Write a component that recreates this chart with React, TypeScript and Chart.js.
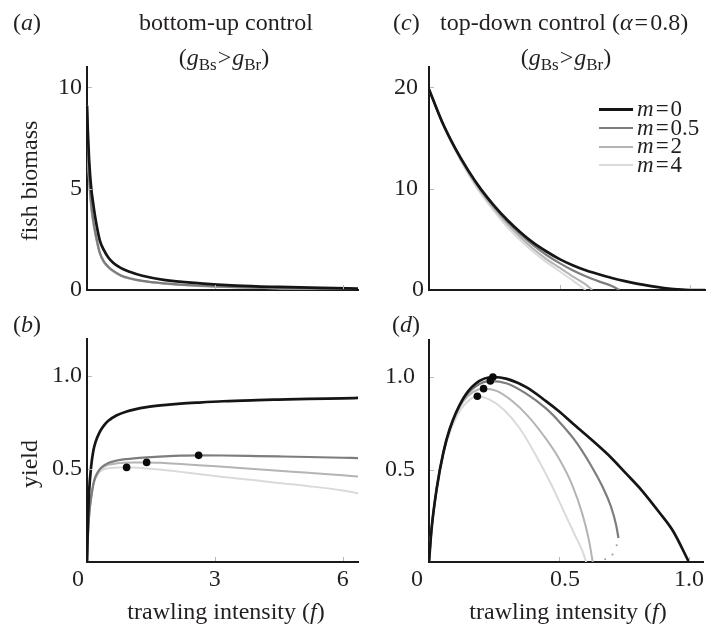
import React, { useEffect, useRef } from "react";
import { Chart, registerables } from "chart.js";

Chart.register(...registerables);

const W = 707;
const H = 626;
const FONT = '"Liberation Serif", "Times New Roman", Times, serif';
const TEXT = "#231f20";
const AXIS = "#1a1a1a";
const C_M0 = "#151515";
const C_M05 = "#7d7d7d";
const C_M2 = "#b4b4b4";
const C_M4 = "#dadada";
const DOT = "#0a0a0a";

// ---------- Panel (a): fish biomass, bottom-up control ----------
const fA = [0, 0.02, 0.05, 0.1, 0.15, 0.2, 0.3, 0.4, 0.5, 0.62, 0.8, 1.0, 1.3, 1.8, 2.65, 3.5, 4.5, 5.5, 6.4];
const bioA_m0 = [9.1, 7.8, 6.4, 5.0, 4.2, 3.5, 2.45, 1.95, 1.6, 1.33, 1.08, 0.9, 0.7, 0.5, 0.33, 0.22, 0.15, 0.1, 0.07];
const bioA_m05 = [9.1, 7.2, 5.6, 4.2, 3.4, 2.8, 1.85, 1.4, 1.15, 0.94, 0.72, 0.58, 0.45, 0.33, 0.21, 0.14, 0.09, 0.06, 0.04];
const bioA_m2 = [9.1, 7.0, 5.4, 4.05, 3.3, 2.7, 1.8, 1.36, 1.12, 0.92, 0.7, 0.57, 0.44, 0.32, 0.2, 0.13, 0.085, 0.055, 0.035];
const bioA_m4 = [9.1, 6.9, 5.3, 3.95, 3.2, 2.65, 1.76, 1.33, 1.1, 0.9, 0.69, 0.56, 0.43, 0.31, 0.19, 0.125, 0.08, 0.05, 0.03];

// ---------- Panel (b): yield, bottom-up control ----------
const fB = [0, 0.02, 0.05, 0.1, 0.15, 0.2, 0.3, 0.4, 0.5, 0.7, 0.93, 1.1, 1.4, 1.8, 2.2, 2.62, 3.2, 4.0, 4.5, 5.2, 6.0, 6.4];
const yldB_m0 = [0, 0.2, 0.38, 0.52, 0.6, 0.645, 0.7, 0.735, 0.76, 0.79, 0.81, 0.82, 0.833, 0.844, 0.852, 0.858, 0.865, 0.871, 0.874, 0.878, 0.881, 0.883];
const yldB_m05 = [0, 0.13, 0.25, 0.35, 0.42, 0.46, 0.5, 0.52, 0.533, 0.546, 0.554, 0.558, 0.563, 0.568, 0.572, 0.574, 0.573, 0.57, 0.568, 0.565, 0.561, 0.559];
const yldB_m2 = [0, 0.13, 0.25, 0.35, 0.42, 0.455, 0.495, 0.513, 0.523, 0.531, 0.534, 0.535, 0.536, 0.533, 0.528, 0.521, 0.512, 0.499, 0.491, 0.48, 0.467, 0.459];
const yldB_m4 = [0, 0.13, 0.25, 0.35, 0.415, 0.45, 0.485, 0.499, 0.505, 0.508, 0.509, 0.508, 0.503, 0.495, 0.485, 0.473, 0.458, 0.438, 0.425, 0.408, 0.385, 0.369];
const fB_max = [2.62, 1.4, 0.93];
const yldB_max = [0.574, 0.536, 0.509];

// ---------- Panel (c): fish biomass, top-down control ----------
const fC_m0 = [0, 0.05, 0.1, 0.15, 0.2, 0.25, 0.3, 0.35, 0.4, 0.45, 0.5, 0.55, 0.6, 0.65, 0.7, 0.75, 0.8, 0.85, 0.9, 0.95, 1.0, 1.057];
const bioC_m0 = [19.8, 16.6, 14.0, 11.8, 9.9, 8.3, 6.9, 5.7, 4.65, 3.8, 3.05, 2.45, 1.95, 1.55, 1.18, 0.87, 0.6, 0.38, 0.2, 0.07, 0, 0];
const fC_m05 = [0, 0.05, 0.1, 0.15, 0.2, 0.25, 0.3, 0.35, 0.4, 0.45, 0.5, 0.55, 0.6, 0.65, 0.7, 0.73];
const bioC_m05 = [19.8, 16.6, 14.0, 11.8, 9.85, 8.2, 6.75, 5.5, 4.4, 3.45, 2.65, 1.95, 1.35, 0.85, 0.4, 0];
const fC_m2 = [0, 0.05, 0.1, 0.15, 0.2, 0.25, 0.3, 0.35, 0.4, 0.45, 0.5, 0.55, 0.6, 0.625];
const bioC_m2 = [19.8, 16.6, 13.9, 11.6, 9.65, 8.0, 6.5, 5.2, 4.05, 3.05, 2.2, 1.35, 0.55, 0];
const fC_m4 = [0, 0.05, 0.1, 0.15, 0.2, 0.25, 0.3, 0.35, 0.4, 0.45, 0.5, 0.55, 0.6];
const bioC_m4 = [19.8, 16.5, 13.8, 11.45, 9.45, 7.75, 6.2, 4.9, 3.75, 2.75, 1.85, 0.95, 0];

// ---------- Panel (d): yield, top-down control ----------
const fD_m0 = [0, 0.01, 0.03, 0.055, 0.08, 0.13, 0.18, 0.246, 0.3, 0.374, 0.45, 0.5, 0.56, 0.63, 0.7, 0.757, 0.82, 0.885, 0.94, 1.0];
const yldD_m0 = [0, 0.18, 0.4, 0.59, 0.72, 0.88, 0.965, 1.0, 0.99, 0.945, 0.87, 0.815, 0.74, 0.655, 0.565, 0.48, 0.385, 0.27, 0.165, 0];
const fD_m05 = [0, 0.01, 0.03, 0.055, 0.08, 0.13, 0.18, 0.236, 0.3, 0.374, 0.45, 0.5, 0.56, 0.62, 0.67, 0.7, 0.72, 0.729];
const yldD_m05 = [0, 0.18, 0.4, 0.59, 0.72, 0.875, 0.95, 0.978, 0.965, 0.91, 0.83, 0.76, 0.66, 0.53, 0.4, 0.3, 0.2, 0.13];
const fD_m05u = [0.722, 0.706, 0.678];
const yldD_m05u = [0.09, 0.04, 0.015];
const fD_m2 = [0, 0.01, 0.03, 0.055, 0.08, 0.13, 0.17, 0.21, 0.26, 0.32, 0.38, 0.44, 0.5, 0.55, 0.59, 0.615, 0.63];
const yldD_m2 = [0, 0.18, 0.4, 0.59, 0.715, 0.865, 0.92, 0.937, 0.925, 0.87, 0.79, 0.685, 0.56, 0.42, 0.26, 0.12, 0];
const fD_m4 = [0, 0.01, 0.03, 0.055, 0.08, 0.12, 0.155, 0.186, 0.23, 0.29, 0.35, 0.41, 0.47, 0.52, 0.56, 0.59, 0.605];
const yldD_m4 = [0, 0.18, 0.4, 0.585, 0.7, 0.82, 0.875, 0.896, 0.88, 0.82, 0.72, 0.58, 0.42, 0.27, 0.15, 0.06, 0];
const fD_max = [0.246, 0.236, 0.21, 0.186];
const yldD_max = [1.0, 0.978, 0.937, 0.896];

// ---------- ticks ----------
const xTicksBottomUp = [0, 3, 6];
const xLabelsBottomUp = ["0\u00a0\u00a0\u00a0", "3", "6"];
const xTicksTopDown = [0, 0.5, 1.0];
const xLabelsTopDown = ["0\u00a0\u00a0\u00a0\u00a0", "\u00a0\u00a00.5", "1.0"];
const yTicksA = [0, 5, 10];
const yLabelsA = ["0", "5", "10"];
const yTicksC = [0, 10, 20];
const yLabelsC = ["0", "10\u00a0", "20\u00a0"];
const yTicksYield = [0.5, 1.0];
const yLabelsYield = ["0.5", "1.0"];

const legendLabels = ["0", "0.5", "2", "4"];
const legendColors = [C_M0, C_M05, C_M2, C_M4];

const pts = (xs: number[], ys: number[]) => xs.map((x, i) => ({ x, y: ys[i] }));

const line = (xs: number[], ys: number[], color: string, width: number) => ({
  data: pts(xs, ys),
  showLine: true,
  borderColor: color,
  backgroundColor: color,
  borderWidth: width,
  pointRadius: 0,
  cubicInterpolationMode: "monotone",
  fill: false,
});

const dots = (xs: number[], ys: number[], r: number, color: string) => ({
  data: pts(xs, ys),
  showLine: false,
  pointRadius: r,
  backgroundColor: color,
  borderColor: color,
  borderWidth: 0,
});

const innerTicks = {
  id: "innerTicks",
  afterDraw(chart: any, _args: any, opts: any) {
    const { ctx, chartArea, scales } = chart;
    ctx.save();
    ctx.strokeStyle = "#b8b8b8";
    ctx.lineWidth = 1;
    ctx.beginPath();
    for (const v of opts.x || []) {
      const px = Math.round(scales.x.getPixelForValue(v)) + 0.5;
      ctx.moveTo(px, chartArea.bottom - 1);
      ctx.lineTo(px, chartArea.bottom - 5);
    }
    for (const v of opts.y || []) {
      const py = Math.round(scales.y.getPixelForValue(v)) + 0.5;
      ctx.moveTo(chartArea.left + 1, py);
      ctx.lineTo(chartArea.left + 5, py);
    }
    ctx.stroke();
    ctx.restore();
  },
};

type PanelCfg = {
  area: { left: number; top: number; right: number; bottom: number };
  xMax: number;
  yMax: number;
  xTicks: number[];
  xLabels: string[] | null;
  yTicks: number[];
  yLabels: string[];
  yPad: number;
  innerX: number[];
  innerY: number[];
  datasets: any[];
};

const labelFor = (ticks: number[], labels: string[]) => (v: any) => {
  const i = ticks.findIndex((t) => Math.abs(t - Number(v)) < 1e-9);
  return i >= 0 ? labels[i] : "";
};

function buildConfig(p: PanelCfg): any {
  const tickFont = { family: FONT, size: 24 };
  return {
    type: "scatter",
    data: { datasets: p.datasets },
    options: {
      animation: false,
      responsive: false,
      events: [],
      layout: {
        autoPadding: false,
        padding: { left: 0, top: p.area.top, right: W - p.area.right, bottom: 0 },
      },
      plugins: {
        legend: { display: false },
        tooltip: { enabled: false },
        innerTicks: { x: p.innerX, y: p.innerY },
      },
      scales: {
        x: {
          type: "linear",
          position: "bottom",
          min: 0,
          max: p.xMax,
          afterFit: (s: any) => {
            s.height = H - p.area.bottom;
          },
          afterBuildTicks: (s: any) => {
            s.ticks = p.xTicks.map((v) => ({ value: v }));
          },
          grid: { display: false, drawTicks: false, tickLength: 0 },
          border: { display: true, color: AXIS, width: 2 },
          ticks: {
            display: !!p.xLabels,
            autoSkip: false,
            maxRotation: 0,
            minRotation: 0,
            padding: 3,
            font: tickFont,
            color: TEXT,
            callback: labelFor(p.xTicks, p.xLabels || []),
          },
        },
        y: {
          type: "linear",
          position: "left",
          min: 0,
          max: p.yMax,
          afterFit: (s: any) => {
            s.width = p.area.left;
          },
          afterBuildTicks: (s: any) => {
            s.ticks = p.yTicks.map((v) => ({ value: v }));
          },
          grid: { display: false, drawTicks: false, tickLength: 0 },
          border: { display: true, color: AXIS, width: 2 },
          ticks: {
            display: true,
            autoSkip: false,
            padding: p.yPad,
            font: tickFont,
            color: TEXT,
            callback: labelFor(p.yTicks, p.yLabels),
          },
        },
      },
    },
    plugins: [innerTicks],
  };
}

const panelA: PanelCfg = {
  area: { left: 87, top: 67, right: 358, bottom: 290 },
  xMax: 6.36,
  yMax: 11,
  xTicks: xTicksBottomUp,
  xLabels: null,
  yTicks: yTicksA,
  yLabels: yLabelsA,
  yPad: 5,
  innerX: [3, 6],
  innerY: [5, 10],
  datasets: [
    line(fA, bioA_m0, C_M0, 2.7),
    line(fA, bioA_m05, C_M05, 2.2),
    line(fA, bioA_m2, C_M2, 2),
    line(fA, bioA_m4, C_M4, 2),
  ],
};

const panelB: PanelCfg = {
  area: { left: 87, top: 339, right: 358, bottom: 562 },
  xMax: 6.36,
  yMax: 1.2,
  xTicks: xTicksBottomUp,
  xLabels: xLabelsBottomUp,
  yTicks: yTicksYield,
  yLabels: yLabelsYield,
  yPad: 5,
  innerX: [3, 6],
  innerY: [0.5, 1.0],
  datasets: [
    dots(fB_max, yldB_max, 3.8, DOT),
    line(fB, yldB_m0, C_M0, 2.7),
    line(fB, yldB_m05, C_M05, 2.2),
    line(fB, yldB_m2, C_M2, 2),
    line(fB, yldB_m4, C_M4, 2),
  ],
};

const panelC: PanelCfg = {
  area: { left: 429, top: 67, right: 705, bottom: 290 },
  xMax: 1.057,
  yMax: 22,
  xTicks: xTicksTopDown,
  xLabels: null,
  yTicks: yTicksC,
  yLabels: yLabelsC,
  yPad: 5,
  innerX: [0.5, 1.0],
  innerY: [10, 20],
  datasets: [
    line(fC_m0, bioC_m0, C_M0, 2.7),
    line(fC_m05, bioC_m05, C_M05, 2.2),
    line(fC_m2, bioC_m2, C_M2, 2),
    line(fC_m4, bioC_m4, C_M4, 2),
  ],
};

const panelD: PanelCfg = {
  area: { left: 429, top: 340, right: 705, bottom: 562 },
  xMax: 1.057,
  yMax: 1.2,
  xTicks: xTicksTopDown,
  xLabels: xLabelsTopDown,
  yTicks: yTicksYield,
  yLabels: yLabelsYield,
  yPad: 14,
  innerX: [0.5, 1.0],
  innerY: [0.5, 1.0],
  datasets: [
    dots(fD_max, yldD_max, 3.8, DOT),
    line(fD_m0, yldD_m0, C_M0, 2.7),
    line(fD_m05, yldD_m05, C_M05, 2.2),
    dots(fD_m05u, yldD_m05u, 1, "#9a9a9a"),
    line(fD_m2, yldD_m2, C_M2, 2),
    line(fD_m4, yldD_m4, C_M4, 2),
  ],
};

function PanelChart({ cfg }: { cfg: PanelCfg }) {
  const ref = useRef<HTMLCanvasElement>(null);
  useEffect(() => {
    if (!ref.current) return;
    const chart = new Chart(ref.current, buildConfig(cfg));
    return () => chart.destroy();
  }, [cfg]);
  return (
    <canvas
      ref={ref}
      width={W}
      height={H}
      style={{ position: "absolute", left: 0, top: 0, width: W, height: H }}
    />
  );
}

function Txt({
  x,
  y,
  align = "left",
  size = 24,
  children,
}: {
  x: number;
  y: number;
  align?: "left" | "center" | "right";
  size?: number;
  children: any;
}) {
  const asc = size * 0.8375;
  const tx = align === "center" ? "-50%" : align === "right" ? "-100%" : "0";
  return (
    <div
      style={{
        position: "absolute",
        left: x,
        top: y - asc,
        fontSize: size,
        lineHeight: `${size}px`,
        whiteSpace: "nowrap",
        transform: `translateX(${tx})`,
        fontFamily: FONT,
        color: TEXT,
      }}
    >
      {children}
    </div>
  );
}

function VTxt({ cx, cy, children }: { cx: number; cy: number; children: any }) {
  return (
    <div
      style={{
        position: "absolute",
        left: cx,
        top: cy,
        fontSize: 24,
        lineHeight: "24px",
        whiteSpace: "nowrap",
        transform: "translate(-50%, -50%) rotate(-90deg)",
        fontFamily: FONT,
        color: TEXT,
      }}
    >
      {children}
    </div>
  );
}

const Sub = ({ children }: { children: any }) => (
  <span style={{ fontSize: 17, position: "relative", top: 5 }}>{children}</span>
);

const Eq = () => <span style={{ margin: "0 2px" }}>=</span>;

const GTitle = () => (
  <>
    (<i>g</i>
    <Sub>Bs</Sub>
    <span style={{ margin: "0 1px" }}>&gt;</span>
    <i>g</i>
    <Sub>Br</Sub>)
  </>
);

export default function App() {
  const legendY = [109, 127.8, 146.6, 165.4];
  return (
    <div
      style={{
        position: "absolute",
        left: 0,
        top: 0,
        width: W,
        height: H,
        background: "#ffffff",
        overflow: "hidden",
      }}
    >
      <PanelChart cfg={panelA} />
      <PanelChart cfg={panelB} />
      <PanelChart cfg={panelC} />
      <PanelChart cfg={panelD} />

      {/* panel letters and titles */}
      <Txt x={13} y={30}>
        (<i>a</i>)
      </Txt>
      <Txt x={226} y={30} align="center">
        bottom-up control
      </Txt>
      <Txt x={224} y={65} align="center">
        <GTitle />
      </Txt>
      <Txt x={393} y={30}>
        (<i>c</i>)
      </Txt>
      <Txt x={440} y={30}>
        top-down control (<i>α</i>
        <Eq />
        0.8)
      </Txt>
      <Txt x={566} y={65} align="center">
        <GTitle />
      </Txt>
      <Txt x={13} y={332}>
        (<i>b</i>)
      </Txt>
      <Txt x={392} y={332}>
        (<i>d</i>)
      </Txt>

      {/* axis titles */}
      <VTxt cx={29} cy={181}>fish biomass</VTxt>
      <VTxt cx={29} cy={464}>yield</VTxt>
      <Txt x={226} y={619} align="center">
        trawling intensity (<i>f</i>)
      </Txt>
      <Txt x={568} y={619} align="center">
        trawling intensity (<i>f</i>)
      </Txt>

      {/* legend */}
      {legendLabels.map((lab, i) => (
        <React.Fragment key={lab}>
          <div
            style={{
              position: "absolute",
              left: 599,
              top: legendY[i] - (i === 0 ? 1.5 : 1),
              width: 34,
              height: i === 0 ? 3 : 2,
              background: legendColors[i],
            }}
          />
          <Txt x={637} y={legendY[i] + 7} size={23}>
            <i>m</i>
            <Eq />
            {lab}
          </Txt>
        </React.Fragment>
      ))}
    </div>
  );
}
